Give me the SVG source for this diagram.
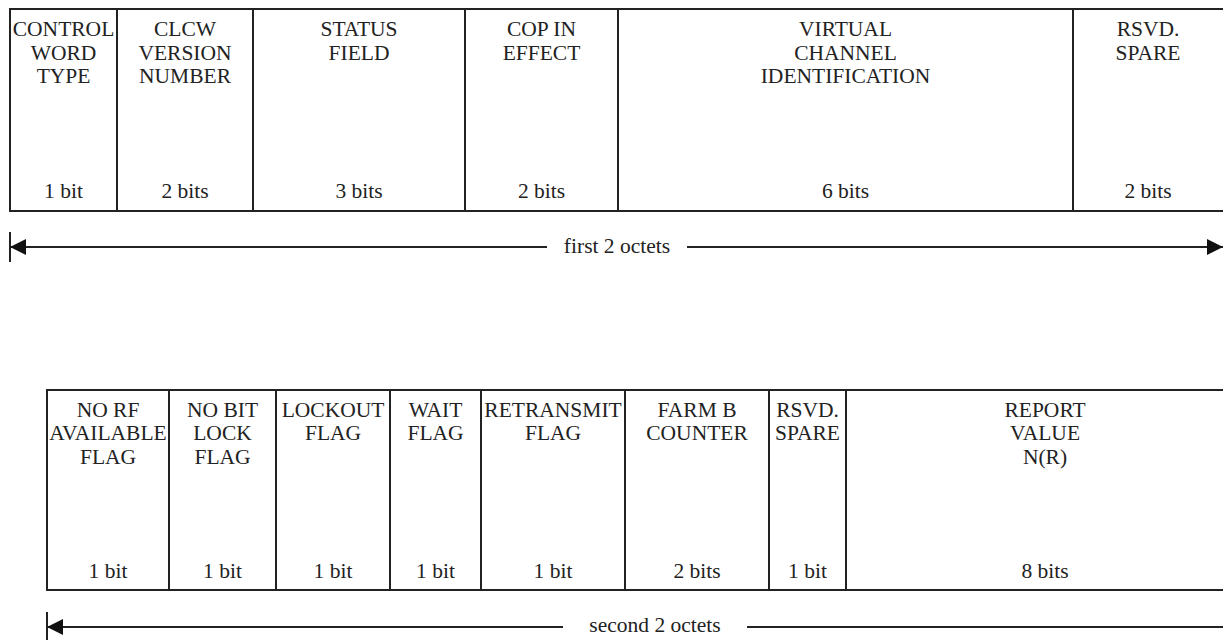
<svg xmlns="http://www.w3.org/2000/svg" width="1223" height="640" viewBox="0 0 1223 640">
<style>
.box{fill:#fff;stroke:#222;stroke-width:2}
.div{stroke:#222;stroke-width:2}
text{font-family:"Liberation Serif","Times New Roman",serif;font-size:21.5px;fill:#222;text-anchor:middle}
.ln{stroke:#222;stroke-width:2;fill:none}
</style>
<defs>
<marker id="ah" viewBox="0 0 16 16" refX="16" refY="8" markerWidth="16" markerHeight="16" markerUnits="userSpaceOnUse" orient="auto-start-reverse">
<path d="M0,0 L16,8 L0,16 Z" fill="#111"/>
</marker>
</defs>
<rect width="1223" height="640" fill="#fff"/>
<g id="frame1">
<rect class="box" x="10" y="9" width="1240" height="202"/>
</g>
<g id="n-control-word-type">
<text x="63.5" y="36">CONTROL</text><text x="63.5" y="59.5">WORD</text><text x="63.5" y="83">TYPE</text>
<text x="63.5" y="198">1 bit</text>
</g>
<g id="n-clcw-version"><line class="div" x1="117" y1="9" x2="117" y2="211"/>
<text x="185" y="36">CLCW</text><text x="185" y="59.5">VERSION</text><text x="185" y="83">NUMBER</text>
<text x="185" y="198">2 bits</text>
</g>
<g id="n-status-field"><line class="div" x1="253" y1="9" x2="253" y2="211"/>
<text x="359" y="36">STATUS</text><text x="359" y="59.5">FIELD</text>
<text x="359" y="198">3 bits</text>
</g>
<g id="n-cop-in-effect"><line class="div" x1="465" y1="9" x2="465" y2="211"/>
<text x="541.5" y="36">COP IN</text><text x="541.5" y="59.5">EFFECT</text>
<text x="541.5" y="198">2 bits</text>
</g>
<g id="n-virtual-channel"><line class="div" x1="618" y1="9" x2="618" y2="211"/>
<text x="845.5" y="36">VIRTUAL</text><text x="845.5" y="59.5">CHANNEL</text><text x="845.5" y="83">IDENTIFICATION</text>
<text x="845.5" y="198">6 bits</text>
</g>
<g id="n-rsvd-spare-1"><line class="div" x1="1073" y1="9" x2="1073" y2="211"/>
<text x="1148" y="36">RSVD.</text><text x="1148" y="59.5">SPARE</text>
<text x="1148" y="198">2 bits</text>
</g>

<g id="frame2">
<rect class="box" x="47" y="390" width="1200" height="200"/>
</g>
<g id="n-no-rf">
<text x="108" y="416.7">NO RF</text><text x="108" y="440.3">AVAILABLE</text><text x="108" y="464">FLAG</text>
<text x="108" y="578">1 bit</text>
</g>
<g id="n-no-bit-lock"><line class="div" x1="169" y1="390" x2="169" y2="590"/>
<text x="222.5" y="416.7">NO BIT</text><text x="222.5" y="440.3">LOCK</text><text x="222.5" y="464">FLAG</text>
<text x="222.5" y="578">1 bit</text>
</g>
<g id="n-lockout"><line class="div" x1="276" y1="390" x2="276" y2="590"/>
<text x="333" y="416.7">LOCKOUT</text><text x="333" y="440.3">FLAG</text>
<text x="333" y="578">1 bit</text>
</g>
<g id="n-wait"><line class="div" x1="390" y1="390" x2="390" y2="590"/>
<text x="435.5" y="416.7">WAIT</text><text x="435.5" y="440.3">FLAG</text>
<text x="435.5" y="578">1 bit</text>
</g>
<g id="n-retransmit"><line class="div" x1="481" y1="390" x2="481" y2="590"/>
<text x="553" y="416.7">RETRANSMIT</text><text x="553" y="440.3">FLAG</text>
<text x="553" y="578">1 bit</text>
</g>
<g id="n-farm-b"><line class="div" x1="625" y1="390" x2="625" y2="590"/>
<text x="697" y="416.7">FARM B</text><text x="697" y="440.3">COUNTER</text>
<text x="697" y="578">2 bits</text>
</g>
<g id="n-rsvd-spare-2"><line class="div" x1="769" y1="390" x2="769" y2="590"/>
<text x="807.5" y="416.7">RSVD.</text><text x="807.5" y="440.3">SPARE</text>
<text x="807.5" y="578">1 bit</text>
</g>
<g id="n-report-value"><line class="div" x1="846" y1="390" x2="846" y2="590"/>
<text x="1045" y="416.7">REPORT</text><text x="1045" y="440.3">VALUE</text><text x="1045" y="464">N(R)</text>
<text x="1045" y="578">8 bits</text>
</g>

<g id="connectors">
<line class="ln" x1="10" y1="232" x2="10" y2="262"/>
<line class="ln" x1="547" y1="247" x2="10" y2="247" marker-end="url(#ah)"/>
<line class="ln" x1="687" y1="247" x2="1223" y2="247" marker-end="url(#ah)"/>
<text x="617" y="253">first 2 octets</text>
<line class="ln" x1="47" y1="612" x2="47" y2="640"/>
<line class="ln" x1="563" y1="627" x2="47" y2="627" marker-end="url(#ah)"/>
<text x="655" y="632">second 2 octets</text>
<line class="ln" x1="747" y1="627" x2="1223" y2="627"/>
</g>
</svg>
